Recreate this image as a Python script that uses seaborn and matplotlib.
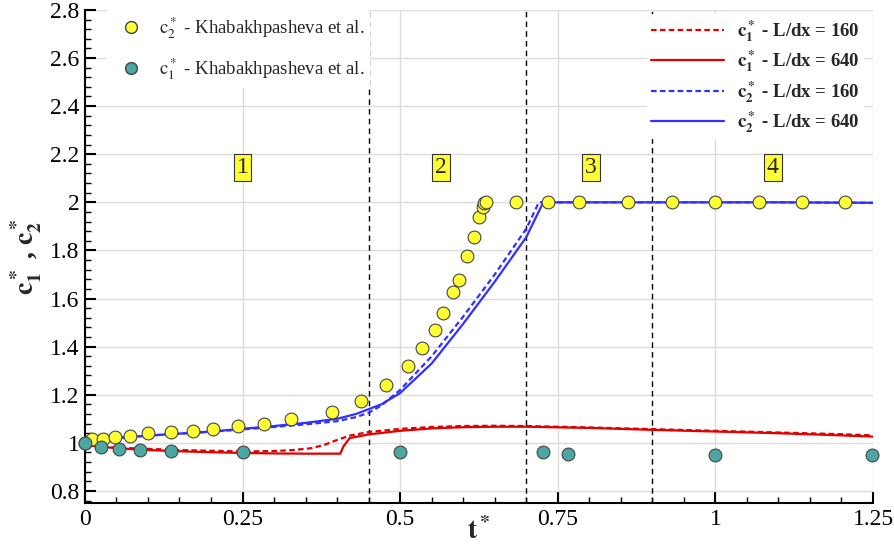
import numpy as np
import pandas as pd
import seaborn as sns
import matplotlib
import matplotlib.pyplot as plt
from matplotlib.lines import Line2D
from matplotlib.ticker import MultipleLocator, FuncFormatter

sns.set_style("white")
plt.rcParams['font.family'] = ['Liberation Serif', 'DejaVu Serif']
plt.rcParams['mathtext.fontset'] = 'stix'

# experimental points (Khabakhpasheva et al.)
c2_exp_t = [0.0, 0.012, 0.029, 0.047, 0.071, 0.100, 0.136, 0.172, 0.203, 0.243, 0.284, 0.327,
            0.392, 0.438, 0.477, 0.512, 0.535, 0.555, 0.568, 0.584, 0.593, 0.606, 0.617, 0.625,
            0.631, 0.633, 0.636, 0.684, 0.734, 0.784, 0.861, 0.931, 0.999, 1.069, 1.137, 1.206]
c2_exp_v = [1.0, 1.015, 1.018, 1.024, 1.030, 1.039, 1.046, 1.051, 1.057, 1.071, 1.079, 1.099,
            1.128, 1.174, 1.242, 1.321, 1.396, 1.471, 1.538, 1.629, 1.679, 1.775, 1.854, 1.937,
            1.979, 1.996, 2.0, 2.0, 2.0, 2.0, 2.0, 2.0, 2.0, 2.0, 2.0, 2.0]
c1_exp_t = [0.0, 0.026, 0.054, 0.088, 0.137, 0.251, 0.5, 0.727, 0.766, 1.0, 1.249]
c1_exp_v = [1.0, 0.982, 0.975, 0.970, 0.968, 0.964, 0.964, 0.9625, 0.954, 0.949, 0.949]

# simulations
c1_160_t = [0, 0.05, 0.1, 0.15, 0.2, 0.25, 0.3, 0.33, 0.36, 0.38, 0.40, 0.42, 0.45, 0.5,
            0.55, 0.6, 0.65, 0.7, 0.8, 0.9, 1.0, 1.1, 1.2, 1.25]
c1_160_v = [0.99, 0.98, 0.975, 0.97, 0.967, 0.964, 0.966, 0.970, 0.978, 0.992, 1.012, 1.030,
            1.045, 1.058, 1.066, 1.070, 1.071, 1.070, 1.064, 1.057, 1.050, 1.043, 1.036, 1.031]
c1_640_t = [0, 0.05, 0.1, 0.15, 0.2, 0.25, 0.3, 0.35, 0.405, 0.41, 0.42, 0.45, 0.5, 0.55,
            0.6, 0.65, 0.7, 0.8, 0.9, 1.0, 1.1, 1.2, 1.25]
c1_640_v = [0.99, 0.978, 0.97, 0.965, 0.961, 0.958, 0.956, 0.955, 0.955, 0.985, 1.02, 1.035,
            1.05, 1.06, 1.065, 1.067, 1.067, 1.062, 1.054, 1.047, 1.040, 1.031, 1.026]
c2_160_t = [0, 0.1, 0.2, 0.3, 0.35, 0.4, 0.43, 0.45, 0.47, 0.5, 0.55, 0.6, 0.65, 0.7, 0.72,
            0.8, 0.9, 1.0, 1.1, 1.25]
c2_160_v = [1.01, 1.03, 1.046, 1.066, 1.077, 1.09, 1.107, 1.125, 1.155, 1.22, 1.36, 1.525,
            1.70, 1.89, 2.0, 2.0, 2.0, 2.0, 2.0, 1.998]
c2_640_t = [0, 0.1, 0.2, 0.3, 0.35, 0.4, 0.43, 0.45, 0.47, 0.5, 0.55, 0.6, 0.65, 0.7, 0.727,
            0.8, 0.9, 1.0, 1.1, 1.25]
c2_640_v = [1.01, 1.03, 1.047, 1.07, 1.083, 1.10, 1.12, 1.14, 1.16, 1.207, 1.33, 1.495,
            1.67, 1.855, 2.0, 2.0, 2.0, 2.0, 2.0, 1.998]

phase_lines = [0.45, 0.7, 0.9]
phase_labels = ['1', '2', '3', '4']
phase_label_t = [0.25, 0.565, 0.803, 1.091]
phase_label_y = 2.145

red = '#e00000'
blue = '#3030ff'
yellow = '#ffff33'
teal = '#4ca6a1'

fig = plt.figure(figsize=(8.94, 5.5), dpi=100)
ax = fig.add_axes([0.095, 0.0855, 0.8815, 0.8965])

for t in phase_lines:
	ax.axvline(t, color='black', lw=1, dashes=(4, 3), zorder=1)

sns.lineplot(x=c1_160_t, y=c1_160_v, ax=ax, color=red, lw=1.6, zorder=3).lines[-1].set_dashes((2.5, 1.5))
sns.lineplot(x=c1_640_t, y=c1_640_v, ax=ax, color=red, lw=1.6, zorder=3)
sns.lineplot(x=c2_160_t, y=c2_160_v, ax=ax, color=blue, lw=1.6, zorder=3).lines[-1].set_dashes((2.5, 1.5))
sns.lineplot(x=c2_640_t, y=c2_640_v, ax=ax, color=blue, lw=1.6, zorder=3)

sns.scatterplot(x=c2_exp_t, y=c2_exp_v, ax=ax, color=yellow, edgecolor='#444444', linewidth=0.8, s=85, zorder=4, clip_on=False)
sns.scatterplot(x=c1_exp_t, y=c1_exp_v, ax=ax, color=teal, edgecolor='#444444', linewidth=0.8, s=85, zorder=4, clip_on=False)

for lab, t in zip(phase_labels, phase_label_t):
	ax.text(t, phase_label_y, lab, fontsize=17, ha='center', va='center', zorder=6,
		bbox=dict(boxstyle='square,pad=0.12', fc=yellow, ec='#333333', lw=0.8))

ax.set_xlim(0, 1.25)
ax.set_ylim(0.75, 2.8)
ax.xaxis.set_major_locator(MultipleLocator(0.25))
ax.xaxis.set_minor_locator(MultipleLocator(0.05))
ax.yaxis.set_minor_locator(MultipleLocator(0.04))
ax.set_yticks(np.arange(0.8, 2.81, 0.2))
ax.yaxis.set_major_formatter(FuncFormatter(lambda v, p: '%g' % round(v, 2)))
ax.xaxis.set_major_formatter(FuncFormatter(lambda v, p: '%g' % round(v, 2)))
ax.grid(True, which='major', color='#dcdcdc', lw=1)
ax.set_axisbelow(True)
for s in ['top', 'right']:
	ax.spines[s].set_visible(False)
for s in ['left', 'bottom']:
	ax.spines[s].set_color('black')
	ax.spines[s].set_linewidth(1.5)
ax.tick_params(which='major', direction='in', length=8, width=1.5, labelsize=17, pad=4, colors='black')
ax.tick_params(which='minor', direction='in', length=4, width=1, colors='black')
ax.tick_params(axis='y', which='both', left=True)
ax.tick_params(axis='x', which='both', bottom=True)

ax.set_xlabel(r'$\mathbf{t^*}$', fontsize=20, labelpad=-9)
ax.set_ylabel(r'$\mathbf{c_1^*}$ , $\mathbf{c_2^*}$', fontsize=20, fontweight='bold', labelpad=4)

h1 = [Line2D([], [], marker='o', ls='none', mfc=yellow, mec='#444444', ms=8.5),
	Line2D([], [], marker='o', ls='none', mfc=teal, mec='#444444', ms=8.5)]
leg1 = ax.legend(h1, [r'$\mathrm{c}_2^*$ - Khabakhpasheva et al.', r'$\mathrm{c}_1^*$ - Khabakhpasheva et al.'],
	loc='upper left', bbox_to_anchor=(0.015, 1.02), fontsize=13.5, frameon=True, framealpha=1,
	edgecolor='none', facecolor='white', handletextpad=0.5, labelspacing=0.85, borderpad=0.3)
ax.add_artist(leg1)

h2 = [Line2D([], [], color=red, lw=1.6, dashes=(2.5, 1.5)), Line2D([], [], color=red, lw=1.6),
	Line2D([], [], color=blue, lw=1.6, dashes=(2.5, 1.5)), Line2D([], [], color=blue, lw=1.6)]
labs2 = [r'$\mathbf{c_1^*}$ - L/dx = 160', r'$\mathbf{c_1^*}$ - L/dx = 640',
	r'$\mathbf{c_2^*}$ - L/dx = 160', r'$\mathbf{c_2^*}$ - L/dx = 640']
ax.legend(h2, labs2, loc='upper right', bbox_to_anchor=(1.0, 1.01), frameon=True, framealpha=1,
	edgecolor='none', facecolor='white', handlelength=3.9, handletextpad=0.7, labelspacing=0.25,
	prop={'weight': 'bold', 'size': 13.5, 'family': 'Liberation Serif'}, borderpad=0.2)

fig.savefig('out.png', dpi=100)
